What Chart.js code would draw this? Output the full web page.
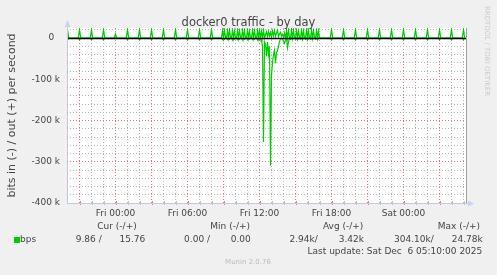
<!DOCTYPE html>
<html>
<head>
<meta charset="utf-8">
<script src="https://cdn.jsdelivr.net/npm/chart.js@4.4.1/dist/chart.umd.min.js"></script>
<style>
  html, body { margin: 0; padding: 0; background: #f0f0f0; }
  #graph { display: block; }
</style>
</head>
<body>
<canvas id="graph" width="497" height="275"></canvas>
<script>
// Tempo em minutos a partir de Fri 00:00 (5 min por amostra)
const timeMin = -242.5, timeMax = 1757.5;

// Picos de cada hora fora da zona de tráfego intenso
const spikeMinutes = [-240, -180, -120, -60, 0, 60, 120, 180, 240, 300, 360, 420, 480,
    1080, 1140, 1200, 1260, 1320, 1380, 1440, 1500, 1560, 1620, 1680, 1740];
const spikeOut = [21000, 21000, 20500, 21000, 10000, 21000, 21000, 20500, 21000, 21000, 21000, 20500, 21000,
    21000, 20500, 21000, 21000, 21000, 20500, 21000, 21000, 21000, 20500, 21000, 21000];
const spikeIn = [-4500, -4500, -4000, -4500, -1000, -4500, -4500, -4000, -4500, -4500, -4500, -4000, -4500,
    -4500, -4000, -4500, -4500, -4500, -4000, -4500, -4500, -4500, -4000, -4500, -4500];

// Zona intensa: amostras de 5 min a partir de 08:45
const burstStart = 525;
const burstOut = [
    0, 0, 18000, 0, 19000, 2000, 0, 18500, 0, 19500,
    1000, 0, 20000, 0, 17000, 0, 0, 19000, 0, 18000,
    3000, 0, 20000, 0, 18500, 0, 1000, 19000, 0, 17500,
    0, 0, 19500, 0, 18000, 2000, 0, 19000, 0, 18500,
    0, 17000, 0, 19000, 0, 8000, 15000, 3000, 16000, 5000,
    14000, 2000, 17000, 6000, 18000, 4000, 12000, 19000, 3000, 10000,
    14000, 5000, 9000, 2000, 12000, 0, 18000, 0, 19000, 1000,
    0, 20000, 0, 18500, 0, 0, 19000, 0, 17500, 2000,
    0, 19500, 0, 18000, 0, 1000, 20000, 0, 18500, 0,
    0, 19000, 0, 18000, 2000, 0, 19500, 0, 18000, 0,
    0, 0
];
const burstIn = [
    0, 0, -4000, 0, -3000, 0, 0, -4000, 0, -3000,
    0, 0, -5000, 0, -3000, 0, 0, -4000, 0, -3000,
    0, 0, -5000, 0, -3000, 0, 0, -4000, 0, -3000,
    0, 0, -4000, 0, -3000, 0, 0, -5000, 0, -3000,
    0, -5000, -20000, -252000, -10000, -15000, -44000, -10000, -40000, -20000,
    -309000, -90000, -60000, -40000, -30000, -61000, -35000, -32000, -20000, -8000,
    -3000, 0, -2000, -8000, -13000, -5000, 0, -24000, -10000, 0,
    -3000, 0, -4000, 0, 0, -3000, 0, -5000, 0, 0,
    -3000, 0, -4000, 0, 0, -3000, 0, -5000, 0, 0,
    -3000, 0, -4000, 0, 0, -3000, 0, -4000, 0, 0,
    0, 0
];

// Grelha e etiquetas
const xGridMinutes = [-180, -120, -60, 0, 60, 120, 180, 240, 300, 360, 420, 480, 540, 600, 660, 720,
    780, 840, 900, 960, 1020, 1080, 1140, 1200, 1260, 1320, 1380, 1440, 1500, 1560, 1620, 1680, 1740];
const xLabels = { 0: "Fri 00:00", 360: "Fri 06:00", 720: "Fri 12:00", 1080: "Fri 18:00", 1440: "Sat 00:00" };
const yGridValues = [-400000, -380000, -360000, -340000, -320000, -300000, -280000, -260000, -240000,
    -220000, -200000, -180000, -160000, -140000, -120000, -100000, -80000, -60000, -40000, -20000, 0, 20000];
const yLabels = { "0": "0  ", "-100000": "-100 k", "-200000": "-200 k", "-300000": "-300 k", "-400000": "-400 k" };

// Legenda
const legendHeads = ["Cur (-/+)", "Min (-/+)", "Avg (-/+)", "Max (-/+)"];
const legendValues = ["9.86 /", "15.76", "0.00 /", "0.00", "2.94k/", "3.42k", "304.10k/", "24.78k"];

const FONT = "'DejaVu Sans', sans-serif";
const green = "#00cc00";

function buildPoints(burst, spikes) {
    const pts = [];
    spikeMinutes.forEach((m, i) => {
        pts.push({ x: m - 6, y: 0 }, { x: m, y: spikes[i] }, { x: m + 6, y: 0 });
    });
    burst.forEach((v, i) => pts.push({ x: burstStart + i * 5, y: v }));
    return pts.sort((a, b) => a.x - b.x);
}

const muninPlugin = {
    id: "munin",
    beforeDraw(chart) {
        const ctx = chart.ctx, a = chart.chartArea;
        ctx.save();
        ctx.fillStyle = "#f0f0f0";
        ctx.fillRect(0, 0, chart.width, chart.height);
        ctx.fillStyle = "#ffffff";
        ctx.fillRect(a.left, a.top, a.right - a.left, a.bottom - a.top);
        ctx.restore();
    },
    afterDatasetsDraw(chart) {
        const ctx = chart.ctx, a = chart.chartArea;
        const y0 = Math.round(chart.scales.y.getPixelForValue(0)) + 0.5;
        ctx.save();
        ctx.strokeStyle = "#000000";
        ctx.lineWidth = 1.5;
        ctx.beginPath();
        ctx.moveTo(a.left, y0);
        ctx.lineTo(a.right, y0);
        ctx.stroke();
        // linha do lado direito
        ctx.strokeStyle = "#a0a0a0";
        ctx.lineWidth = 1;
        ctx.beginPath();
        ctx.moveTo(a.right - 0.5, a.top);
        ctx.lineTo(a.right - 0.5, a.bottom);
        ctx.stroke();
        ctx.restore();
    },
    afterDraw(chart) {
        const ctx = chart.ctx, a = chart.chartArea;
        const xs = chart.scales.x;
        ctx.save();

        // marcas no eixo x
        xGridMinutes.forEach((m) => {
            const px = Math.round(xs.getPixelForValue(m)) + 0.5;
            ctx.strokeStyle = m % 180 === 0 ? "#e08080" : "#c0c0c0";
            ctx.lineWidth = 1;
            ctx.beginPath();
            ctx.moveTo(px, a.bottom - 2);
            ctx.lineTo(px, a.bottom + 2);
            ctx.stroke();
        });

        // eixos com setas
        ctx.strokeStyle = "#c4c8e0";
        ctx.lineWidth = 1;
        ctx.beginPath();
        ctx.moveTo(a.left + 0.5, a.bottom + 0.5);
        ctx.lineTo(a.left + 0.5, a.top - 4);
        ctx.moveTo(a.left, a.bottom + 0.5);
        ctx.lineTo(a.right + 3, a.bottom + 0.5);
        ctx.stroke();
        ctx.fillStyle = "#c8d2f6";
        ctx.beginPath();
        ctx.moveTo(a.left + 0.5, a.top - 8);
        ctx.lineTo(a.left - 2.5, a.top - 1);
        ctx.lineTo(a.left + 3.5, a.top - 1);
        ctx.closePath();
        ctx.fill();
        ctx.beginPath();
        ctx.moveTo(a.right + 7, a.bottom + 0.5);
        ctx.lineTo(a.right + 1, a.bottom - 2.5);
        ctx.lineTo(a.right + 1, a.bottom + 3.5);
        ctx.closePath();
        ctx.fill();

        // título
        ctx.fillStyle = "#444444";
        ctx.font = "11.5px " + FONT;
        ctx.textAlign = "center";
        ctx.textBaseline = "alphabetic";
        ctx.fillText("docker0 traffic - by day", 248.5, 25.5);

        // título vertical
        ctx.save();
        ctx.translate(12, (a.top + a.bottom) / 2);
        ctx.rotate(-Math.PI / 2);
        ctx.font = "11px " + FONT;
        ctx.textBaseline = "middle";
        ctx.fillText("bits in (-) / out (+) per second", 0, 0);
        ctx.restore();

        // marca de água à direita
        ctx.save();
        ctx.translate(487, 51);
        ctx.rotate(Math.PI / 2);
        ctx.fillStyle = "#cccccc";
        ctx.font = "7px " + FONT;
        ctx.textAlign = "center";
        ctx.textBaseline = "middle";
        ctx.fillText("RRDTOOL / TOBI OETIKER", 0, 0);
        ctx.restore();

        // legenda
        ctx.font = "9px " + FONT;
        ctx.fillStyle = "#444444";
        ctx.textBaseline = "middle";
        ctx.textAlign = "right";
        const headRight = [136.7, 250, 363.3, 480];
        legendHeads.forEach((t, i) => ctx.fillText(t, headRight[i], 227));
        const valRight = [101.7, 145.3, 210, 250.7, 317.7, 364, 433.7, 482.7];
        legendValues.forEach((t, i) => ctx.fillText(t, valRight[i], 239.5));
        ctx.fillText("Last update: Sat Dec  6 05:10:00 2025", 482.3, 252);
        ctx.textAlign = "left";
        ctx.fillText("bps", 20, 239.5);
        ctx.fillStyle = green;
        ctx.fillRect(14, 237, 6, 6);

        ctx.fillStyle = "#bbbbbb";
        ctx.font = "7px " + FONT;
        ctx.textAlign = "center";
        ctx.fillText("Munin 2.0.76", 248, 262.5);
        ctx.restore();
    },
};

const gridColor = (major) => (major ? "#dc7878" : "#b4b4b4");

new Chart(document.getElementById("graph"), {
    type: "line",
    data: {
        datasets: [
            { label: "in", data: buildPoints(burstIn, spikeIn), borderColor: green, borderWidth: 1.2, pointRadius: 0, tension: 0 },
            { label: "out", data: buildPoints(burstOut, spikeOut), borderColor: green, borderWidth: 1.2, pointRadius: 0, tension: 0 },
        ],
    },
    options: {
        responsive: false,
        animation: false,
        devicePixelRatio: 1,
        layout: { padding: { left: 0, right: 30, top: 28, bottom: 0 } },
        plugins: { legend: { display: false }, tooltip: { enabled: false }, title: { display: false } },
        scales: {
            x: {
                type: "linear",
                min: timeMin,
                max: timeMax,
                afterBuildTicks: (s) => { s.ticks = xGridMinutes.map((v) => ({ value: v })); },
                afterFit: (s) => { s.height = 72; },
                grid: { color: (c) => gridColor(c.tick && c.tick.value % 180 === 0), lineWidth: 1, drawTicks: false },
                border: { display: false, dash: [1, 2] },
                ticks: {
                    autoSkip: false, maxRotation: 0, padding: 5, color: "#444444",
                    font: { family: FONT, size: 9 },
                    callback: (v) => xLabels[v] || "",
                },
            },
            y: {
                min: -400000,
                max: 24300,
                afterBuildTicks: (s) => { s.ticks = yGridValues.map((v) => ({ value: v })); },
                afterFit: (s) => { s.width = 67; },
                grid: { color: (c) => gridColor(c.tick && c.tick.value % 100000 === 0 && c.tick.value !== 0), lineWidth: 1, drawTicks: false },
                border: { display: false, dash: [1, 2] },
                ticks: {
                    autoSkip: false, padding: 7, color: "#444444",
                    font: { family: FONT, size: 9 },
                    callback: (v) => yLabels[String(v)] || "",
                },
            },
        },
    },
    plugins: [muninPlugin],
});
</script>
</body>
</html>
